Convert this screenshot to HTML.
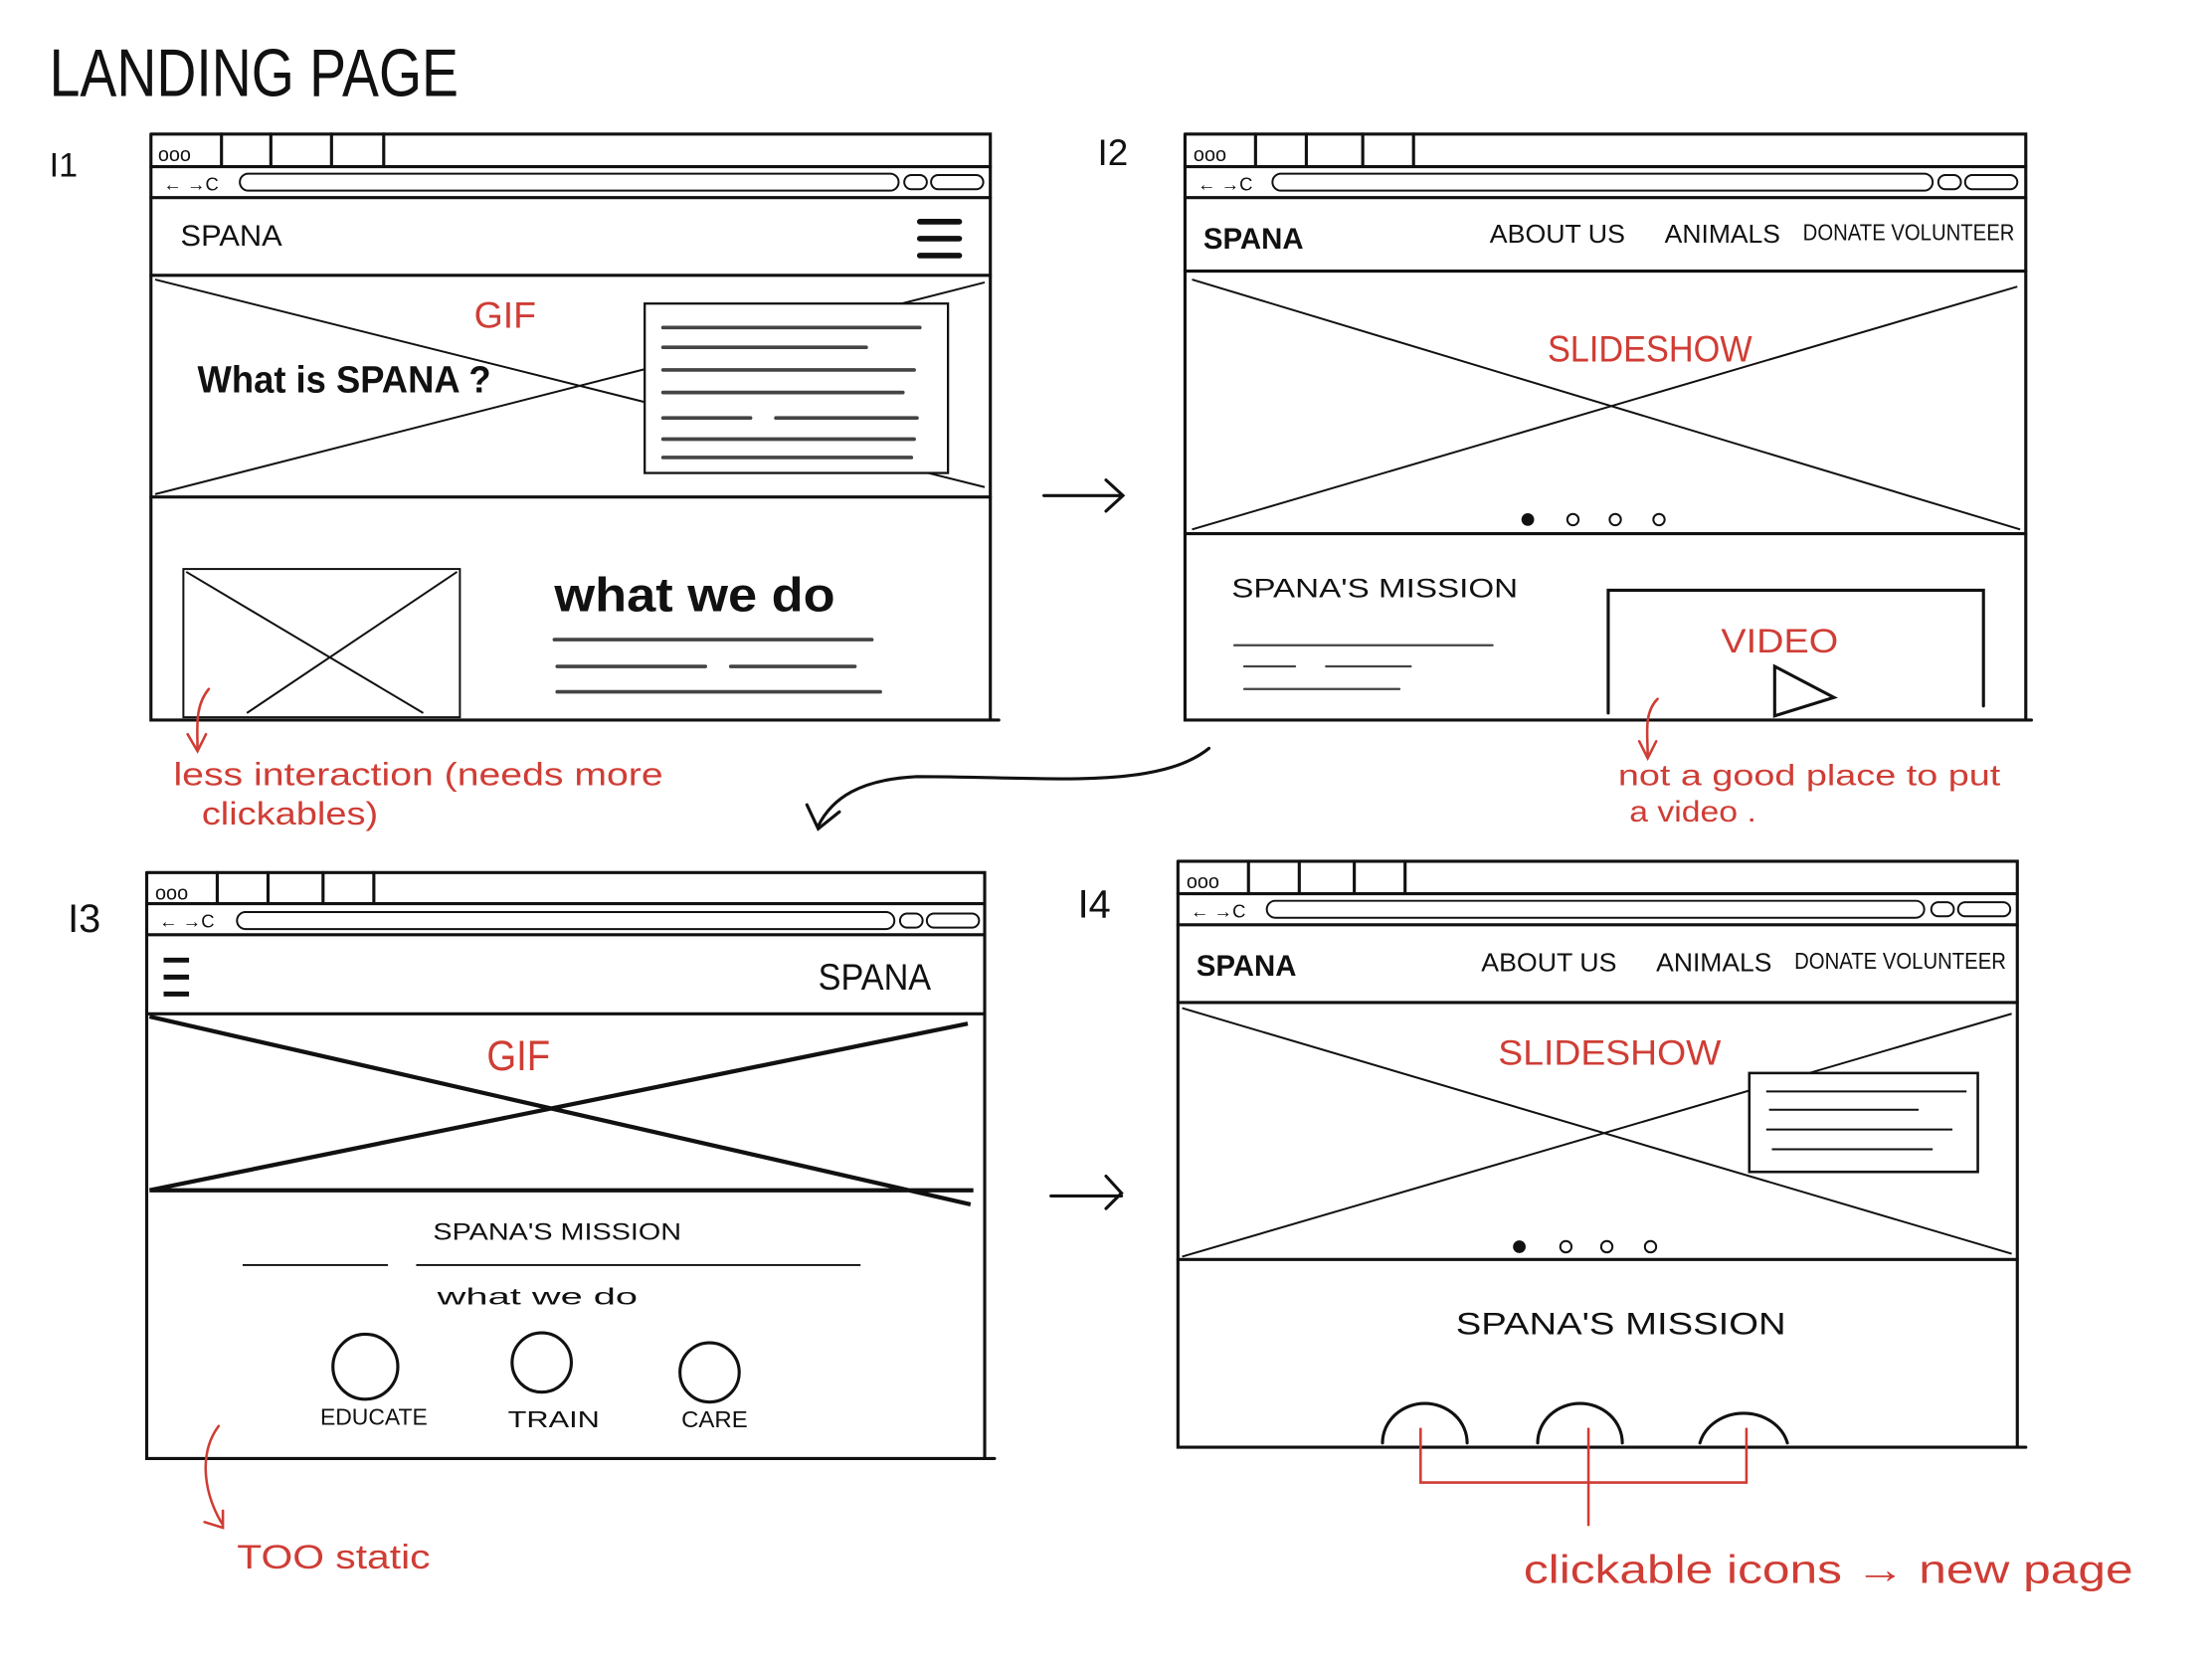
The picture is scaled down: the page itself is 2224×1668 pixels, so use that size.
<!DOCTYPE html>
<html><head><meta charset="utf-8"><style>
html,body{margin:0;padding:0;background:#fff;}
svg{display:block;}
text{font-family:"Liberation Sans",sans-serif;}
.k{fill:none;stroke:#111;stroke-width:2.2;stroke-linecap:round;}
.t{fill:none;stroke:#111;stroke-width:1.4;}
.g{fill:none;stroke:#444;stroke-width:2.6;stroke-linecap:round;}
.r{fill:none;stroke:#cf3d35;stroke-width:1.8;stroke-linecap:round;}
.rt{fill:#cf3d35;}
</style></head><body>
<svg width="2224" height="1668" viewBox="0 0 1568 1175" preserveAspectRatio="none" xmlns="http://www.w3.org/2000/svg">
<rect width="1568" height="1175" fill="#fff"/>
<text x="35" y="68" font-size="48" fill="#111" textLength="290" lengthAdjust="spacingAndGlyphs">LANDING PAGE</text>
<text x="35" y="125" font-size="24" fill="#111">I1</text>
<text x="778" y="117" font-size="26" fill="#111">I2</text>
<text x="48" y="660" font-size="28" fill="#111">I3</text>
<text x="764" y="650" font-size="28" fill="#111">I4</text>

<!-- I1 -->
<g>
<path class="k" d="M107 95H702V510M107 95V510H708"/>
<path class="k" d="M107 118H702M157 95V118M192 95V118M235 95V118M272 95V118"/>
<text x="112" y="114" font-size="14" fill="#111">ooo</text>
<text x="116" y="135" font-size="13" fill="#111">← →C</text>
<rect class="t" x="170" y="123" width="467" height="12" rx="6"/>
<rect class="t" x="641" y="124" width="16" height="10" rx="5"/>
<rect class="t" x="660" y="124" width="37" height="10" rx="5"/>
<path class="k" d="M107 140H702"/>
<text x="128" y="174" font-size="21" fill="#111" textLength="72" lengthAdjust="spacingAndGlyphs">SPANA</text>
<path d="M652 157H680M652 169H680M652 181H680" stroke="#111" stroke-width="4" stroke-linecap="round"/>
<path class="k" d="M107 195H702M107 352H702"/>
<path class="t" d="M110 198L698 345M110 350L698 200"/>
<text x="336" y="232" font-size="26" fill="#cf3d35" textLength="44" lengthAdjust="spacingAndGlyphs">GIF</text>
<text x="140" y="278" font-size="27" fill="#111" font-weight="bold" textLength="208" lengthAdjust="spacingAndGlyphs">What is SPANA ?</text>
<rect x="457" y="215" width="215" height="120" fill="#fff" stroke="#111" stroke-width="1.6"/>
<path class="g" d="M470 232H652M470 246H614M470 262H648M470 278H640M470 296H532M550 296H650M470 311H648M470 324H646"/>
<rect class="t" x="130" y="403" width="196" height="105"/>
<path class="t" d="M132 405L300 505M324 405L175 505"/>
<text x="393" y="433" font-size="34" fill="#111" font-weight="bold" textLength="199" lengthAdjust="spacingAndGlyphs">what we do</text>
<path class="g" d="M393 453H618M395 472H500M518 472H606M395 490H624"/>
</g>
<path class="r" d="M148 488C138 500 140 515 140 530M133 520L140 532L146 520"/>
<text x="123" y="556" font-size="23" class="rt" textLength="347" lengthAdjust="spacingAndGlyphs">less  interaction  (needs  more</text>
<text x="143" y="584" font-size="23" class="rt" textLength="125" lengthAdjust="spacingAndGlyphs">clickables)</text>

<!-- arrows -->
<path class="k" d="M740 351H795M784 340L796 351L784 362"/>
<path class="k" d="M857 530C820 560 740 550 650 550C610 552 590 565 580 585M572 570L580 587L595 575"/>
<path class="k" d="M745 847H795M784 833L795 845L784 856"/>

<!-- I2 -->
<g>
<path class="k" d="M840 95H1436V510M840 95V510H1440"/>
<path class="k" d="M840 118H1436M890 95V118M926 95V118M966 95V118M1002 95V118"/>
<text x="846" y="114" font-size="14" fill="#111">ooo</text>
<text x="849" y="135" font-size="13" fill="#111">← →C</text>
<rect class="t" x="902" y="123" width="468" height="12" rx="6"/>
<rect class="t" x="1374" y="124" width="16" height="10" rx="5"/>
<rect class="t" x="1393" y="124" width="37" height="10" rx="5"/>
<path class="k" d="M840 140H1436"/>
<text x="853" y="176" font-size="21" fill="#111" font-weight="bold" textLength="71" lengthAdjust="spacingAndGlyphs">SPANA</text>
<text x="1056" y="172" font-size="18" fill="#111" textLength="96" lengthAdjust="spacingAndGlyphs">ABOUT US</text>
<text x="1180" y="172" font-size="18" fill="#111" textLength="82" lengthAdjust="spacingAndGlyphs">ANIMALS</text>
<text x="1278" y="170" font-size="16" fill="#111" textLength="150" lengthAdjust="spacingAndGlyphs">DONATE VOLUNTEER</text>
<path class="k" d="M840 192H1436M840 378H1436"/>
<path class="t" d="M845 198L1432 375M845 375L1430 203"/>
<text x="1097" y="256" font-size="26" fill="#cf3d35" textLength="145" lengthAdjust="spacingAndGlyphs">SLIDESHOW</text>
<circle cx="1083" cy="368" r="4.5" fill="#111"/>
<circle class="t" cx="1115" cy="368" r="4"/><circle class="t" cx="1145" cy="368" r="4"/><circle class="t" cx="1176" cy="368" r="4"/>
<text x="873" y="423" font-size="19" fill="#111" textLength="203" lengthAdjust="spacingAndGlyphs">SPANA'S MISSION</text>
<path class="g" d="M875 457H1058M882 472H918M940 472H1000M882 488H992" style="stroke-width:1.6"/>
<path class="k" d="M1140 505V418H1406V500"/>
<text x="1220" y="462" font-size="24" fill="#cf3d35" textLength="83" lengthAdjust="spacingAndGlyphs">VIDEO</text>
<path class="k" d="M1258 472L1300 494L1258 507Z"/>
</g>
<path class="r" d="M1175 495C1165 505 1168 520 1168 535M1162 525L1168 537L1174 525"/>
<text x="1147" y="556" font-size="21" class="rt" textLength="271" lengthAdjust="spacingAndGlyphs">not  a  good  place  to  put</text>
<text x="1155" y="582" font-size="21" class="rt" textLength="90" lengthAdjust="spacingAndGlyphs">a video .</text>

<!-- I3 -->
<g>
<path class="k" d="M104 618H698V1033M104 618V1033H705"/>
<path class="k" d="M104 640H698M154 618V640M190 618V640M229 618V640M265 618V640"/>
<text x="110" y="637" font-size="14" fill="#111">ooo</text>
<text x="113" y="657" font-size="13" fill="#111">← →C</text>
<rect class="t" x="168" y="646" width="466" height="12" rx="6"/>
<rect class="t" x="638" y="647" width="16" height="10" rx="5"/>
<rect class="t" x="657" y="647" width="37" height="10" rx="5"/>
<path class="k" d="M104 662H698"/>
<path d="M116 680H134M116 692H134M116 704H134" stroke="#111" stroke-width="3.5"/>
<text x="580" y="701" font-size="26" fill="#111" textLength="80" lengthAdjust="spacingAndGlyphs">SPANA</text>
<path class="k" d="M104 718H698"/>
<path d="M106 720L688 853M106 843L686 725M106 843H690" fill="none" stroke="#111" stroke-width="3"/>
<text x="345" y="758" font-size="30" fill="#cf3d35" textLength="45" lengthAdjust="spacingAndGlyphs">GIF</text>
<text x="307" y="878" font-size="17" fill="#111" textLength="176" lengthAdjust="spacingAndGlyphs">SPANA'S MISSION</text>
<path class="t" d="M172 896H275M295 896H610"/>
<text x="310" y="924" font-size="16" fill="#111" textLength="142" lengthAdjust="spacingAndGlyphs">what we do</text>
<circle class="k" cx="259" cy="968" r="23"/>
<circle class="k" cx="384" cy="965" r="21"/>
<circle class="k" cx="503" cy="972" r="21"/>
<text x="227" y="1009" font-size="16" fill="#111" textLength="76" lengthAdjust="spacingAndGlyphs">EDUCATE</text>
<text x="360" y="1011" font-size="16" fill="#111" textLength="65" lengthAdjust="spacingAndGlyphs">TRAIN</text>
<text x="483" y="1011" font-size="16" fill="#111" textLength="47" lengthAdjust="spacingAndGlyphs">CARE</text>
</g>
<path class="r" d="M155 1010C140 1030 145 1060 158 1080M145 1078L158 1082L158 1070"/>
<text x="168" y="1111" font-size="24" class="rt" textLength="137" lengthAdjust="spacingAndGlyphs">TOO  static</text>

<!-- I4 -->
<g>
<path class="k" d="M835 610H1430V1025M835 610V1025H1436"/>
<path class="k" d="M835 633H1430M885 610V633M921 610V633M960 610V633M996 610V633"/>
<text x="841" y="629" font-size="14" fill="#111">ooo</text>
<text x="844" y="650" font-size="13" fill="#111">← →C</text>
<rect class="t" x="898" y="638" width="466" height="12" rx="6"/>
<rect class="t" x="1369" y="639" width="16" height="10" rx="5"/>
<rect class="t" x="1388" y="639" width="37" height="10" rx="5"/>
<path class="k" d="M835 655H1430"/>
<text x="848" y="691" font-size="21" fill="#111" font-weight="bold" textLength="71" lengthAdjust="spacingAndGlyphs">SPANA</text>
<text x="1050" y="688" font-size="18" fill="#111" textLength="96" lengthAdjust="spacingAndGlyphs">ABOUT US</text>
<text x="1174" y="688" font-size="18" fill="#111" textLength="82" lengthAdjust="spacingAndGlyphs">ANIMALS</text>
<text x="1272" y="686" font-size="16" fill="#111" textLength="150" lengthAdjust="spacingAndGlyphs">DONATE VOLUNTEER</text>
<path class="k" d="M835 710H1430M835 892H1430"/>
<path class="t" d="M838 714L1426 888M838 890L1426 718"/>
<text x="1062" y="754" font-size="25" fill="#cf3d35" textLength="158" lengthAdjust="spacingAndGlyphs">SLIDESHOW</text>
<rect x="1240" y="760" width="162" height="70" fill="#fff" stroke="#111" stroke-width="1.8"/>
<path class="t" d="M1252 773H1394M1254 786H1360M1252 800H1384M1256 814H1370"/>
<circle cx="1077" cy="883" r="4.5" fill="#111"/>
<circle class="t" cx="1110" cy="883" r="4"/><circle class="t" cx="1139" cy="883" r="4"/><circle class="t" cx="1170" cy="883" r="4"/>
<text x="1032" y="945" font-size="22" fill="#111" textLength="234" lengthAdjust="spacingAndGlyphs">SPANA'S MISSION</text>
<path class="k" d="M980 1022A30 28 0 0 1 1040 1022M1090 1022A30 28 0 0 1 1150 1022M1205 1022A32 28 0 0 1 1267 1022"/>
</g>
<path class="r" d="M1007 1012V1050H1238V1012M1126 1012V1080"/>
<text x="1080" y="1121" font-size="28" class="rt" textLength="432" lengthAdjust="spacingAndGlyphs">clickable  icons → new page</text>
</svg>
</body></html>
